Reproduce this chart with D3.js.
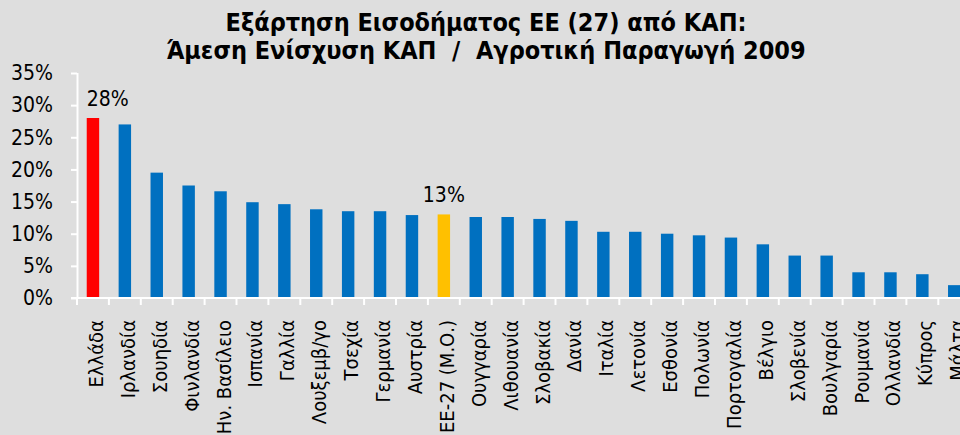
<!DOCTYPE html>
<html>
<head>
<meta charset="utf-8">
<script src="https://cdn.jsdelivr.net/npm/d3@7/dist/d3.min.js"></script>
<style>
  html, body { margin: 0; padding: 0; background: #dedede; }
  svg { display: block; }
  text { font-family: "DejaVu Sans Condensed", "DejaVu Sans", sans-serif; fill: #000; }
</style>
</head>
<body>
<svg id="chart" width="960" height="435"></svg>
<script>
// Direct CAP payments as share of agricultural output, 2009 (%)
const countries = [
  "Ελλάδα", "Ιρλανδία", "Σουηδία", "Φινλανδία", "Ην. Βασίλειο", "Ισπανία",
  "Γαλλία", "Λουξεμβ/γο", "Τσεχία", "Γερμανία", "Αυστρία", "ΕΕ-27 (Μ.Ο.)",
  "Ουγγαρία", "Λιθουανία", "Σλοβακία", "Δανία", "Ιταλία", "Λετονία",
  "Εσθονία", "Πολωνία", "Πορτογαλία", "Βέλγιο", "Σλοβενία", "Βουλγαρία",
  "Ρουμανία", "Ολλανδία", "Κύπρος", "Μάλτα"
];
const shares = [
  28, 27.0, 19.5, 17.5, 16.6, 14.9,
  14.6, 13.8, 13.5, 13.5, 12.9, 13,
  12.6, 12.6, 12.3, 12.0, 10.3, 10.3,
  10.0, 9.75, 9.4, 8.35, 6.6, 6.6,
  4.0, 4.0, 3.7, 2.0
];
const yTicks = [0, 5, 10, 15, 20, 25, 30, 35];
const highlighted = { "Ελλάδα": "#ff0000", "ΕΕ-27 (Μ.Ο.)": "#ffc000" };
const labelled = ["Ελλάδα", "ΕΕ-27 (Μ.Ο.)"];
const titleLines = [
  "Εξάρτηση Εισοδήματος ΕΕ (27) από ΚΑΠ:",
  "Άμεση Ενίσχυση ΚΑΠ  /  Αγροτική Παραγωγή 2009"
];

const svg = d3.select("#chart");
const left = 77, zeroY = 298, topY = 73;
const band = 31.9;

const x = d3.scaleBand()
  .domain(countries)
  .range([left, left + band * countries.length])
  .paddingInner(0.61)
  .paddingOuter(0.305);
const xTicks = d3.scaleLinear().domain([0, countries.length]).range([left, left + band * countries.length]);
const y = d3.scaleLinear().domain([0, 35]).range([zeroY, topY]);

// title
svg.append("g").selectAll("text")
  .data(titleLines)
  .join("text")
  .attr("x", 486)
  .attr("y", (d, i) => 31 + i * 28)
  .attr("text-anchor", "middle")
  .attr("font-size", 25)
  .attr("font-weight", "bold")
  .style("white-space", "pre")
  .text(d => d);

// bars
svg.append("g").selectAll("rect")
  .data(countries)
  .join("rect")
  .attr("x", d => x(d))
  .attr("width", x.bandwidth())
  .attr("y", (d, i) => y(shares[i]))
  .attr("height", (d, i) => y(0) - y(shares[i]))
  .attr("fill", d => highlighted[d] || "#0070c0");

// y axis
const yAxis = svg.append("g")
  .attr("transform", `translate(${left},0)`)
  .call(d3.axisLeft(y).tickValues(yTicks).tickSize(6).tickPadding(18)
    .tickFormat(d => d + "%"));
yAxis.select(".domain").attr("stroke", "#fff").attr("stroke-width", 2)
  .attr("d", `M0.5,${topY}V${zeroY}`);
yAxis.selectAll(".tick line").attr("stroke", "#fff").attr("stroke-width", 2);
yAxis.selectAll(".tick text").attr("font-size", 21)
  .attr("font-family", "DejaVu Sans Condensed, DejaVu Sans, sans-serif").attr("fill", "#000");

// x axis line and category separators
const xAxis = svg.append("g");
xAxis.append("line")
  .attr("x1", left - 6).attr("x2", 960)
  .attr("y1", zeroY).attr("y2", zeroY)
  .attr("stroke", "#fff").attr("stroke-width", 2);
xAxis.selectAll(".sep")
  .data(d3.range(countries.length + 1))
  .join("line")
  .attr("class", "sep")
  .attr("x1", d => xTicks(d)).attr("x2", d => xTicks(d))
  .attr("y1", zeroY).attr("y2", zeroY + 7)
  .attr("stroke", "#fff").attr("stroke-width", 2);

// category labels (the last one runs past the right edge)
svg.append("g").selectAll("text")
  .data(countries)
  .join("text")
  .attr("transform", d => `translate(${x(d) + x.bandwidth() / 2},320) rotate(-90)`)
  .attr("dy", "0.5em")
  .attr("text-anchor", "end")
  .attr("font-size", 20)
  .text(d => d);

// value labels
const fmt = d3.format(".0%");
svg.append("g").selectAll("text")
  .data(labelled)
  .join("text")
  .attr("x", (d, i) => i === 0 ? x(d) : x(d) + x.bandwidth() / 2)
  .attr("text-anchor", (d, i) => i === 0 ? "start" : "middle")
  .attr("y", d => y(shares[countries.indexOf(d)]) - 12)
  .attr("font-size", 21)
  .text(d => fmt(shares[countries.indexOf(d)] / 100));
</script>
</body>
</html>
